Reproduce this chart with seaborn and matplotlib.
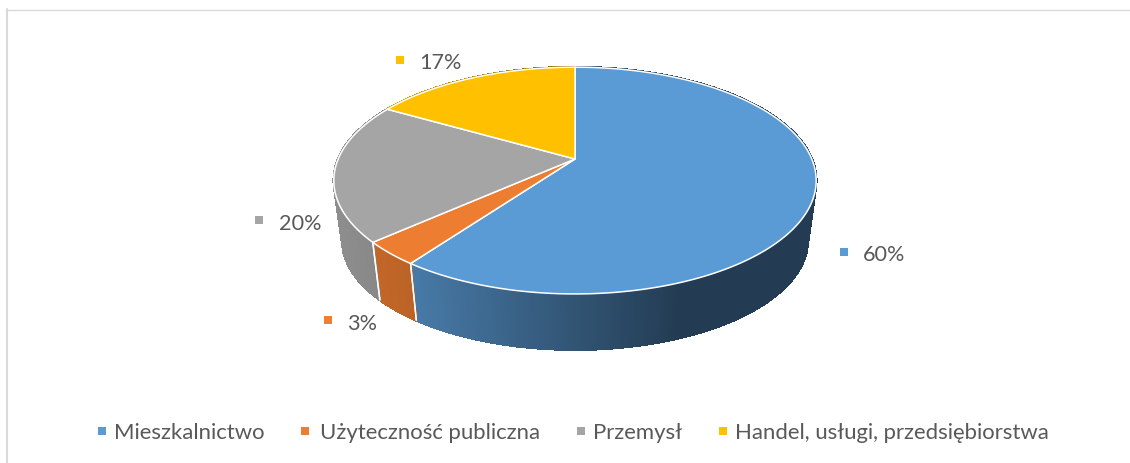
import numpy as np
import matplotlib
matplotlib.use("Agg")
import matplotlib.pyplot as plt
from matplotlib.lines import Line2D
import seaborn as sns

categories = ["Mieszkalnictwo", "Użyteczność publiczna", "Przemysł", "Handel, usługi, przedsiębiorstwa"]
values = [60.0, 3.4, 19.9, 16.7]
colors = ["#5B9BD5", "#ED7D31", "#A5A5A5", "#FFC000"]

sns.set_theme(style="white")
plt.rcParams["font.family"] = ["Lato", "DejaVu Sans"]

fig = plt.figure(figsize=(11.3, 4.64), dpi=100)
ax = fig.add_axes([0, 0, 1, 1])

# the library computes the slice angles; they are then put into perspective
wedges, _ = ax.pie(values, colors=colors, startangle=90, counterclock=False)
angles = [(w.theta1, w.theta2) for w in wedges]
for w in wedges:
    w.remove()

CX, CY = 575.0, 160.0
A, B, K = 236.8, 109.3, 0.19
DROP, SHRINK = 60.4, 0.965


def top(theta):
    X, Y = np.cos(theta), np.sin(theta)
    w = 1 + K * Y
    return CX + A * X / w, CY - B * Y / w


def bottom(theta):
    x, y = top(theta)
    return CX + (x - CX) * SHRINK, CY + (y - CY) * SHRINK + DROP


def shade(x):
    return np.interp(x, [335, 410, 680], [0.86, 0.79, 0.39])


def mix(col, f):
    return tuple(c * f for c in matplotlib.colors.to_rgb(col))


# side walls
for (t1, t2), col in zip(angles, colors):
    t = np.radians(np.linspace(t1, t2, max(int((t2 - t1) * 3), 2)))
    for a, b in zip(t[:-1], t[1:]):
        xa, ya = top(a)
        xb, yb = top(b)
        xc, yc = bottom(b)
        xd, yd = bottom(a)
        c = mix(col, shade(0.5 * (xa + xb)))
        ax.fill([xa, xb, xc, xd], [ya, yb, yc, yd], facecolor=c, edgecolor=c,
                lw=1.2, antialiased=False, zorder=2)

# white seams on the walls
for (t1, t2) in angles:
    for th in np.radians([t1, t2]):
        xa, ya = top(th)
        xb, yb = bottom(th)
        if ya > 181:
            ax.plot([xa, xb], [ya, yb], color="white", lw=1.0, zorder=3)

# top faces
for (t1, t2), col in zip(angles, colors):
    t = np.radians(np.linspace(t1, t2, 200))
    x, y = top(t)
    ax.fill(np.r_[CX, x], np.r_[CY, y], facecolor=col, edgecolor="white", lw=1.1,
            joinstyle="round", zorder=4)

# data labels
text_color = "#595959"
label_pos = [(844, 253, 863, 255), (328, 321, 347, 324), (259, 221, 279, 224), (400, 61, 419, 63)]
for v, col, (sx, sy, tx, ty) in zip(values, colors, label_pos):
    ax.scatter([sx], [sy], marker="s", s=30, color=col, linewidths=0, zorder=5)
    ax.text(tx, ty, f"{round(v)}%", fontsize=15.6, color=text_color, va="center", ha="left")

# legend
legend_pos = [(101.5, 114), (305, 320.5), (581, 593), (723, 735)]
for cat, col, (sx, tx) in zip(categories, colors, legend_pos):
    ax.scatter([sx], [432], marker="s", s=30, color=col, linewidths=0, zorder=5)
    ax.text(tx, 433.5, cat, fontsize=15.95, color=text_color, va="center", ha="left")

# chart frame
ax.add_line(Line2D([6.5, 6.5], [10, 464], color="#D9D9D9", lw=1.5))
ax.add_line(Line2D([6, 1130], [10.5, 10.5], color="#D9D9D9", lw=1.0))

ax.set_aspect("auto")
ax.set_xlim(0, 1130)
ax.set_ylim(464, 0)
ax.axis("off")

fig.savefig("out.png", dpi=100, facecolor="white")
